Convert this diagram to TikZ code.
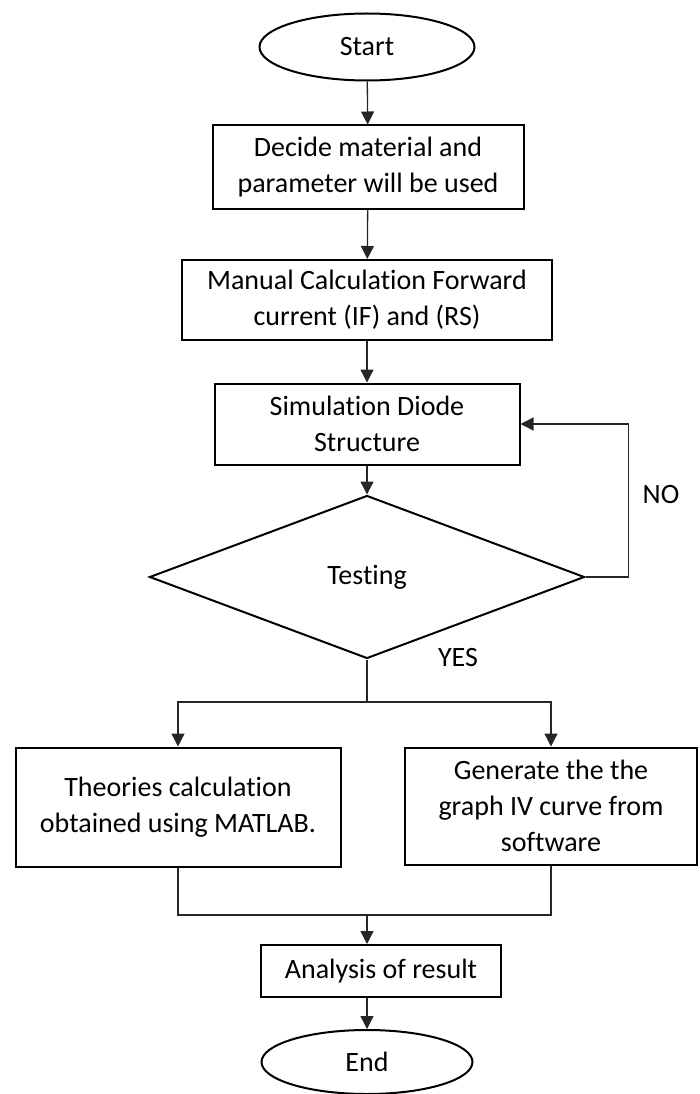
\documentclass[tikz,border=0pt]{standalone}
\usepackage{fontspec}
\setmainfont{Carlito}[Ligatures=NoCommon]
\usetikzlibrary{shapes.geometric}
\usetikzlibrary{arrows.meta}
\tikzset{>={Triangle[length=13pt,width=13pt]}}
\newcommand{\chartfont}{\fontsize{28}{36}\selectfont}
\tikzstyle{block}=[draw,rectangle,line width=2pt,align=center,inner sep=0pt,font=\chartfont]
\tikzstyle{term}=[draw,ellipse,line width=2pt,inner sep=0pt,font=\chartfont]
\tikzstyle{decision}=[draw,diamond,line width=2pt,inner sep=0pt,font=\chartfont]
\tikzstyle{flow}=[->,line width=1.3pt,black!85]
\tikzstyle{link}=[line width=1.3pt,black!85]
\tikzstyle{tag}=[inner sep=0pt,font=\chartfont]

\begin{document}
\begin{tikzpicture}[x=1pt,y=-1pt]
  \useasboundingbox (0,0) rectangle (699,1094);

  % STEPS
  \node[term,minimum width=215pt,minimum height=67pt] (start) at (367,47) {Start};
  \node[block,minimum width=311pt,minimum height=83pt] (decide) at (368,167) {Decide material and\\parameter will be used};
  \node[block,minimum width=370pt,minimum height=80pt] (manual) at (367,300) {Manual Calculation Forward\\current (IF) and (RS)};
  \node[block,minimum width=305pt,minimum height=81pt] (sim) at (367,424) {Simulation Diode\\Structure};
  \node[decision,minimum width=435pt,minimum height=163pt] (test) at (367,577) {Testing};
  \node[block,minimum width=325pt,minimum height=119pt] (theory) at (178,807) {Theories calculation\\obtained using MATLAB.};
  \node[block,minimum width=292pt,minimum height=117pt] (graph) at (551,806) {Generate the the\\graph IV curve from\\software};
  \node[block,minimum width=240pt,minimum height=52pt] (analysis) at (381,971) {Analysis of result};
  \node[term,minimum width=211pt,minimum height=64pt] (finish) at (367,1062) {End};

  % LABELS
  \node[tag] (no) at (661,495) {NO};
  \node[tag] (yes) at (458,658) {YES};

  % CONNECTORS
  \coordinate (split) at (367,702);
  \coordinate (join) at (367,915);
  \draw[flow] (start) -- (decide);
  \draw[flow] (decide) -- (manual);
  \draw[flow] (manual) -- (sim);
  \draw[flow] (sim) -- (test);
  \draw[flow] (test.east) -- ++(43,0) |- (sim.east);
  \draw[link] (test.south) -- (split);
  \draw[flow] (split) -| (theory);
  \draw[flow] (split) -| (graph);
  \draw[link] (theory) |- (join) -| (graph);
  \draw[flow] (join) -- (join |- analysis.north);
  \draw[flow] (finish.north |- analysis.south) -- (finish);
\end{tikzpicture}
\end{document}
